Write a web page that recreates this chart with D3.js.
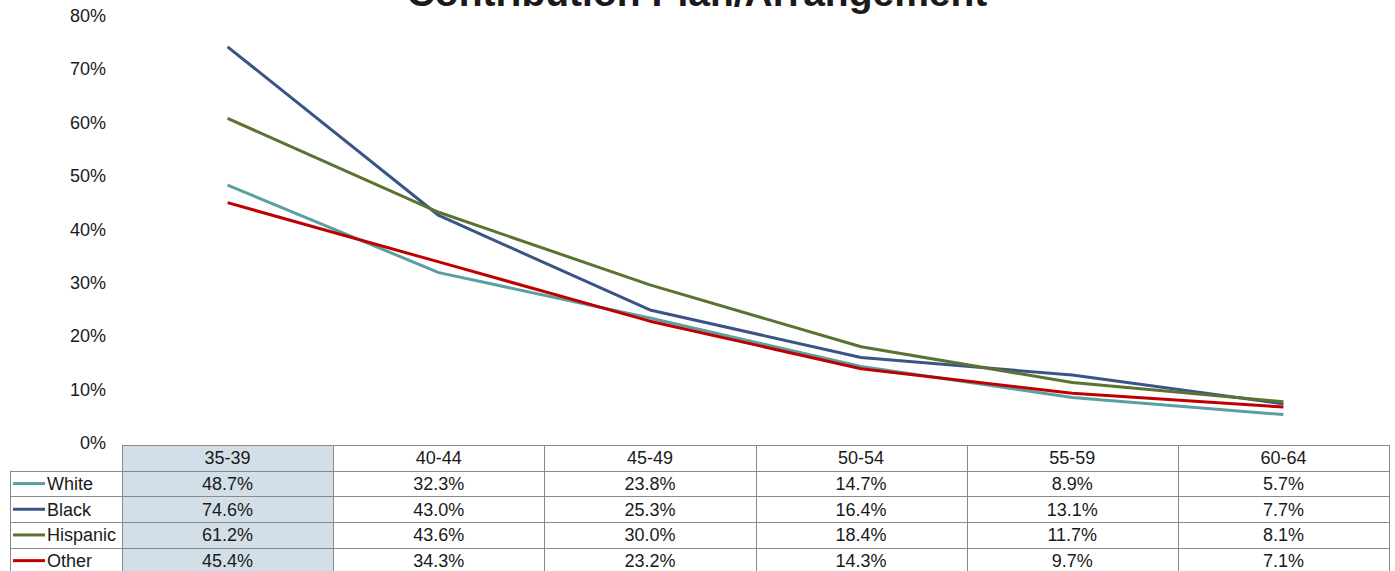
<!DOCTYPE html>
<html>
<head>
<meta charset="utf-8">
<script src="https://cdn.jsdelivr.net/npm/d3@7"></script>
<style>
  html, body { margin: 0; padding: 0; background: #fff; overflow: hidden; }
  svg { display: block; font-family: "Liberation Sans", Arial, sans-serif; }
</style>
</head>
<body>
<svg id="chart" width="1395" height="571"></svg>
<script>
// Age groups and share (%) per group
const ageGroups = ["35-39", "40-44", "45-49", "50-54", "55-59", "60-64"];
const seriesNames = ["White", "Black", "Hispanic", "Other"];
const whiteValues = [48.7, 32.3, 23.8, 14.7, 8.9, 5.7];
const blackValues = [74.6, 43.0, 25.3, 16.4, 13.1, 7.7];
const hispanicValues = [61.2, 43.6, 30.0, 18.4, 11.7, 8.1];
const otherValues = [45.4, 34.3, 23.2, 14.3, 9.7, 7.1];
const yTicks = [0, 10, 20, 30, 40, 50, 60, 70, 80];
const titleText = "Contribution Plan/Arrangement";

const seriesValues = [whiteValues, blackValues, hispanicValues, otherValues];
const colors = ["#5AA0A2", "#3A5585", "#5B7331", "#C00000"];

const svg = d3.select("#chart");

// layout
const tableLeft = 122, tableRight = 1389;
const legendLeft = 10;
const plotTop = 18, plotBottom = 445;
const rowH = 25.7;
const fontSize = 18;

const x = d3.scaleBand().domain(ageGroups).range([tableLeft, tableRight]).padding(0);
const y = d3.scaleLinear().domain([0, 80]).range([plotBottom, plotTop]);

// title
svg.append("text")
  .attr("x", 697).attr("y", 6)
  .attr("text-anchor", "middle")
  .attr("font-size", 39).attr("font-weight", "bold")
  .attr("fill", "#1a1a1a")
  .text(titleText);

// y axis (labels only)
const yAxis = d3.axisLeft(y).tickValues(yTicks).tickSize(0).tickPadding(0)
  .tickFormat(d => d + "%");
const gy = svg.append("g").attr("transform", "translate(106,0)").call(yAxis);
gy.select(".domain").remove();
gy.selectAll("text")
  .attr("font-family", "'Liberation Sans', Arial, sans-serif")
  .attr("font-size", fontSize).attr("fill", "#1a1a1a")
  .attr("dy", "0.2em");

// lines
const line = d3.line().x((d, i) => x(ageGroups[i]) + x.bandwidth() / 2).y(d => y(d));
seriesValues.forEach((vals, si) => {
  svg.append("path")
    .datum(vals)
    .attr("d", line)
    .attr("fill", "none")
    .attr("stroke", colors[si])
    .attr("stroke-width", 3)
    .attr("stroke-linejoin", "round");
});

// data table
const table = svg.append("g");
const headerTop = plotBottom;
const nRows = seriesNames.length;

// highlighted first column
table.append("rect")
  .attr("x", x(ageGroups[0])).attr("y", headerTop)
  .attr("width", x.bandwidth()).attr("height", rowH * (nRows + 1))
  .attr("fill", "#D3DFE8");

const gridColor = "#8a8a8a";
// horizontal rules
for (let r = 0; r <= nRows + 1; r++) {
  const yy = Math.round(headerTop + r * rowH) + 0.5;
  table.append("line")
    .attr("x1", r === 0 ? tableLeft : legendLeft).attr("x2", tableRight)
    .attr("y1", yy).attr("y2", yy)
    .attr("stroke", gridColor).attr("stroke-width", 1);
}
// vertical rules
ageGroups.forEach(g => {
  const xx = Math.round(x(g)) + 0.5;
  table.append("line").attr("x1", xx).attr("x2", xx)
    .attr("y1", headerTop).attr("y2", headerTop + rowH * (nRows + 1))
    .attr("stroke", gridColor);
});
table.append("line").attr("x1", tableRight + 0.5).attr("x2", tableRight + 0.5)
  .attr("y1", headerTop).attr("y2", headerTop + rowH * (nRows + 1))
  .attr("stroke", gridColor);
table.append("line").attr("x1", legendLeft + 0.5).attr("x2", legendLeft + 0.5)
  .attr("y1", headerTop + rowH).attr("y2", headerTop + rowH * (nRows + 1))
  .attr("stroke", gridColor);

// header labels
ageGroups.forEach(g => {
  table.append("text")
    .attr("x", x(g) + x.bandwidth() / 2).attr("y", headerTop + rowH / 2)
    .attr("dy", "0.36em").attr("text-anchor", "middle")
    .attr("font-size", fontSize).attr("fill", "#1a1a1a")
    .text(g);
});

// legend keys and value rows
seriesNames.forEach((name, si) => {
  const cy = headerTop + (si + 1) * rowH + rowH / 2;
  table.append("line")
    .attr("x1", 13).attr("x2", 45).attr("y1", cy).attr("y2", cy)
    .attr("stroke", colors[si]).attr("stroke-width", 3);
  table.append("text")
    .attr("x", 47).attr("y", cy).attr("dy", "0.36em")
    .attr("font-size", fontSize).attr("fill", "#1a1a1a")
    .text(name);
  seriesValues[si].forEach((v, i) => {
    table.append("text")
      .attr("x", x(ageGroups[i]) + x.bandwidth() / 2).attr("y", cy)
      .attr("dy", "0.36em").attr("text-anchor", "middle")
      .attr("font-size", fontSize).attr("fill", "#1a1a1a")
      .text(v.toFixed(1) + "%");
  });
});
</script>
</body>
</html>
